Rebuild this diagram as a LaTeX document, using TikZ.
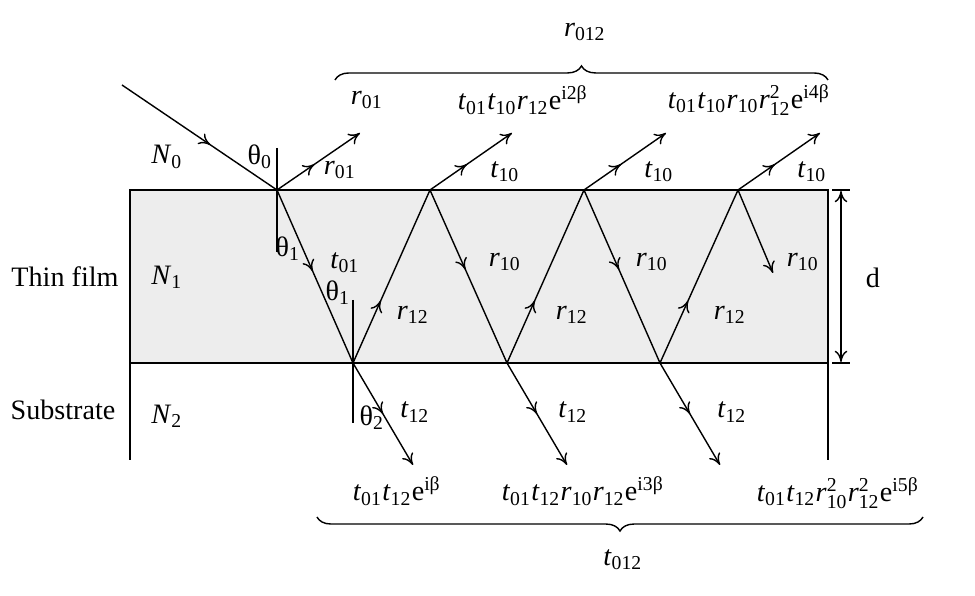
\documentclass[tikz,border=0pt]{standalone}
\usepackage{amsmath}
\usepackage{fontspec}
\setmainfont{Liberation Serif}
\usetikzlibrary{positioning,arrows.meta,calc,decorations.markings,decorations.pathreplacing}
\definecolor{filmgray}{HTML}{EDEDED}
\newcommand{\coef}[2]{\textit{#1}$_{\text{#2}}$}
\newcommand{\coefsq}[2]{\textit{#1}$^{\text{2}}_{\text{#2}}$}
\newcommand{\phasef}[1]{e$^{\text{i#1β}}$}
\newcommand{\thet}[1]{θ$_{\text{#1}}$}
\tikzset{
  midarrow/.style={postaction={decorate},decoration={markings,
    mark=at position #1 with {\arrow{To[length=4pt,width=4.5pt]}}}},
  brc/.style={decorate,decoration={brace,amplitude=5pt}},
}

\begin{document}
\begin{tikzpicture}[>={To[length=4pt,width=4.5pt]},x=0.0125cm,y=-0.0125cm,line width=0.5pt]
  \useasboundingbox (0,0) rectangle (975,596);
  % film and substrate
  \fill[filmgray] (130,190) rectangle (828,363);
  \draw[line width=0.7pt] (130,460) -- (130,190) -- (828,190) -- (828,460);
  \draw[line width=0.7pt] (130,363) -- (828,363);
  \draw (832,190) -- (850,190);
  \draw (832,363) -- (850,363);
  \draw[<->] (841,191) -- (841,362);
  \node (d) at (873,278) {d};
  \node (thin) at (65,277) {Thin film};
  \node (sub) at (63,410) {Substrate};
  \node (n0) at (167,157) {\coef{N}{0}};
  \node (n1) at (167,277) {\coef{N}{1}};
  \node (n2) at (167,416) {\coef{N}{2}};
  % bounce points
  \coordinate (src) at (122,85);
  \coordinate (T0) at (277,190);
  \coordinate (B1) at (353,363);
  \coordinate (T1) at (430,190);
  \coordinate (B2) at (507,363);
  \coordinate (T2) at (584,190);
  \coordinate (B3) at (660,363);
  \coordinate (T3) at (738,190);
  % normals
  \draw (277,148) -- (277,252);
  \draw (353,300) -- (353,423);
  % rays
  \draw[midarrow=0.57] (src) -- (T0);
  \draw[->,midarrow=0.45] (T0) -- ++(83,-57);
  \draw[midarrow=0.47] (T0) -- (B1);
  \draw[midarrow=0.36] (B1) -- (T1);
  \draw[midarrow=0.46] (T1) -- (B2);
  \draw[midarrow=0.36] (B2) -- (T2);
  \draw[midarrow=0.46] (T2) -- (B3);
  \draw[midarrow=0.36] (B3) -- (T3);
  \draw[->] (T3) -- (773,273);
  \foreach \p in {T1,T2,T3} {\draw[->,midarrow=0.45] (\p) -- ++(82,-57);}
  \foreach \p in {B1,B2,B3} {\draw[->,midarrow=0.5] (\p) -- ++(60,102);}
  % angles and local coefficients
  \node (a0) at (260,157) {\thet{0}};
  \node (a1) at (288,249) {\thet{1}};
  \node (a1b) at (338,293) {\thet{1}};
  \node (a2) at (372,418) {\thet{2}};
  \node (r01) at (340,170) {\coef{r}{01}};
  \node (t01) at (345,263) {\coef{t}{01}};
  \foreach \x in {505,659,812} {\node at (\x,172) {\coef{t}{10}};}
  \foreach \x in {505,652,803} {\node at (\x,262) {\coef{r}{10}};}
  \foreach \x in {413,572,730} {\node at (\x,315) {\coef{r}{12}};}
  \foreach \x in {415,573,732} {\node at (\x,412) {\coef{t}{12}};}
  % reflected terms
  \node (rr1) at (367,100) {\coef{r}{01}};
  \node (rr2) at (523,100) {\coef{t}{01}\coef{t}{10}\coef{r}{12}\phasef{2}};
  \node (rr3) at (749,100) {\coef{t}{01}\coef{t}{10}\coef{r}{10}\coefsq{r}{12}\phasef{4}};
  \draw[brc] (335,80) -- (828,80);
  \node (rtot) at (585,32) {\coef{r}{012}};
  % transmitted terms
  \node (tt1) at (397,491) {\coef{t}{01}\coef{t}{12}\phasef{}};
  \node (tt2) at (583,491) {\coef{t}{01}\coef{t}{12}\coef{r}{10}\coef{r}{12}\phasef{3}};
  \node (tt3) at (838,493) {\coef{t}{01}\coef{t}{12}\coefsq{r}{10}\coefsq{r}{12}\phasef{5}};
  \draw[brc] (923,517) -- (317,517);
  \node (ttot) at (623,560) {\coef{t}{012}};
\end{tikzpicture}
\end{document}
